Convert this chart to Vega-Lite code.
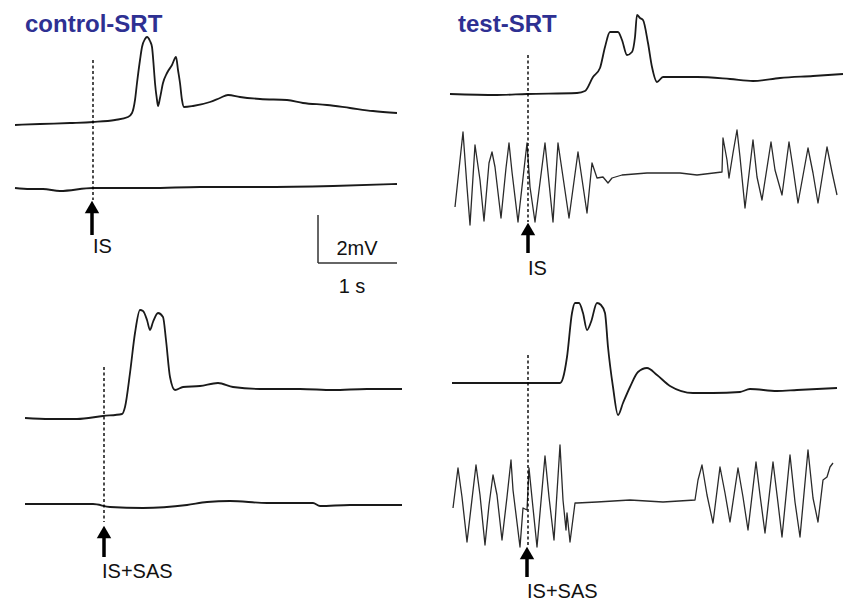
{
"$schema": "https://vega.github.io/schema/vega-lite/v6.json",
"width": 845, "height": 602,
"autosize": {"type": "fit", "contains": "padding"},
"padding": 0,
"background": "white",
"config": {"view": {"stroke": null}},
"datasets": {
"traces": [
{"s":"c1","g":"main","x":15,"y":125},{"s":"c1","g":"main","x":40,"y":124},{"s":"c1","g":"main","x":70,"y":123},{"s":"c1","g":"main","x":93,"y":122},{"s":"c1","g":"main","x":115,"y":120},{"s":"c1","g":"main","x":128,"y":117},{"s":"c1","g":"main","x":132,"y":113},{"s":"c1","g":"main","x":135,"y":100},{"s":"c1","g":"main","x":137,"y":83},{"s":"c1","g":"main","x":140,"y":60},{"s":"c1","g":"main","x":142,"y":47},{"s":"c1","g":"main","x":145,"y":39},{"s":"c1","g":"main","x":147,"y":37},{"s":"c1","g":"main","x":150,"y":41},{"s":"c1","g":"main","x":152,"y":47},{"s":"c1","g":"main","x":154,"y":70},{"s":"c1","g":"main","x":155,"y":83},{"s":"c1","g":"main","x":157,"y":100},{"s":"c1","g":"main","x":158,"y":106},{"s":"c1","g":"main","x":160,"y":98},{"s":"c1","g":"main","x":163,"y":83},{"s":"c1","g":"main","x":167,"y":73},{"s":"c1","g":"main","x":172,"y":65},{"s":"c1","g":"main","x":176,"y":57},{"s":"c1","g":"main","x":178,"y":70},{"s":"c1","g":"main","x":180,"y":83},{"s":"c1","g":"main","x":182,"y":100},{"s":"c1","g":"main","x":184,"y":107},{"s":"c1","g":"main","x":193,"y":106},{"s":"c1","g":"main","x":210,"y":102},{"s":"c1","g":"main","x":220,"y":98},{"s":"c1","g":"main","x":228,"y":95},{"s":"c1","g":"main","x":240,"y":97},{"s":"c1","g":"main","x":260,"y":99},{"s":"c1","g":"main","x":287,"y":100},{"s":"c1","g":"main","x":303,"y":103},{"s":"c1","g":"main","x":327,"y":105},{"s":"c1","g":"main","x":350,"y":108},{"s":"c1","g":"main","x":373,"y":111},{"s":"c1","g":"main","x":397,"y":113},
{"s":"c2","g":"main","x":15,"y":188},{"s":"c2","g":"main","x":30,"y":189},{"s":"c2","g":"main","x":43,"y":189},{"s":"c2","g":"main","x":60,"y":191},{"s":"c2","g":"main","x":93,"y":188},{"s":"c2","g":"main","x":150,"y":188},{"s":"c2","g":"main","x":200,"y":187},{"s":"c2","g":"main","x":260,"y":187},{"s":"c2","g":"main","x":333,"y":186},{"s":"c2","g":"main","x":397,"y":184},
{"s":"t1","g":"main","x":450,"y":94},{"s":"t1","g":"main","x":497,"y":95},{"s":"t1","g":"main","x":527,"y":94},{"s":"t1","g":"main","x":577,"y":93},{"s":"t1","g":"main","x":585,"y":91},{"s":"t1","g":"main","x":593,"y":77},{"s":"t1","g":"main","x":600,"y":68},{"s":"t1","g":"main","x":605,"y":47},{"s":"t1","g":"main","x":610,"y":32},{"s":"t1","g":"main","x":618,"y":32},{"s":"t1","g":"main","x":622,"y":40},{"s":"t1","g":"main","x":627,"y":55},{"s":"t1","g":"main","x":632,"y":52},{"s":"t1","g":"main","x":635,"y":37},{"s":"t1","g":"main","x":637,"y":15},{"s":"t1","g":"main","x":640,"y":18},{"s":"t1","g":"main","x":643,"y":20},{"s":"t1","g":"main","x":648,"y":43},{"s":"t1","g":"main","x":652,"y":67},{"s":"t1","g":"main","x":657,"y":82},{"s":"t1","g":"main","x":663,"y":77},{"s":"t1","g":"main","x":697,"y":77},{"s":"t1","g":"main","x":730,"y":79},{"s":"t1","g":"main","x":753,"y":81},{"s":"t1","g":"main","x":780,"y":78},{"s":"t1","g":"main","x":813,"y":76},{"s":"t1","g":"main","x":843,"y":74},
{"s":"t2","g":"osc","x":455,"y":207},{"s":"t2","g":"osc","x":463,"y":132},{"s":"t2","g":"osc","x":467,"y":187},{"s":"t2","g":"osc","x":470,"y":225},{"s":"t2","g":"osc","x":475,"y":145},{"s":"t2","g":"osc","x":480,"y":180},{"s":"t2","g":"osc","x":484,"y":221},{"s":"t2","g":"osc","x":489,"y":163},{"s":"t2","g":"osc","x":492,"y":152},{"s":"t2","g":"osc","x":495,"y":167},{"s":"t2","g":"osc","x":501,"y":218},{"s":"t2","g":"osc","x":506,"y":168},{"s":"t2","g":"osc","x":509,"y":143},{"s":"t2","g":"osc","x":512,"y":172},{"s":"t2","g":"osc","x":518,"y":222},{"s":"t2","g":"osc","x":527,"y":143},{"s":"t2","g":"osc","x":530,"y":187},{"s":"t2","g":"osc","x":535,"y":222},{"s":"t2","g":"osc","x":545,"y":143},{"s":"t2","g":"osc","x":553,"y":222},{"s":"t2","g":"osc","x":558,"y":143},{"s":"t2","g":"osc","x":563,"y":177},{"s":"t2","g":"osc","x":569,"y":218},{"s":"t2","g":"osc","x":578,"y":152},{"s":"t2","g":"osc","x":587,"y":213},{"s":"t2","g":"osc","x":592,"y":163},{"s":"t2","g":"osc","x":597,"y":178},{"s":"t2","g":"osc","x":603,"y":177},{"s":"t2","g":"osc","x":608,"y":183},{"s":"t2","g":"osc","x":612,"y":178},{"s":"t2","g":"osc","x":622,"y":175},{"s":"t2","g":"osc","x":647,"y":173},{"s":"t2","g":"osc","x":680,"y":173},{"s":"t2","g":"osc","x":697,"y":175},{"s":"t2","g":"osc","x":722,"y":172},{"s":"t2","g":"osc","x":723,"y":138},{"s":"t2","g":"osc","x":727,"y":160},{"s":"t2","g":"osc","x":729,"y":178},{"s":"t2","g":"osc","x":733,"y":153},{"s":"t2","g":"osc","x":737,"y":130},{"s":"t2","g":"osc","x":740,"y":157},{"s":"t2","g":"osc","x":745,"y":208},{"s":"t2","g":"osc","x":753,"y":140},{"s":"t2","g":"osc","x":757,"y":177},{"s":"t2","g":"osc","x":762,"y":200},{"s":"t2","g":"osc","x":771,"y":142},{"s":"t2","g":"osc","x":775,"y":170},{"s":"t2","g":"osc","x":782,"y":195},{"s":"t2","g":"osc","x":789,"y":142},{"s":"t2","g":"osc","x":793,"y":168},{"s":"t2","g":"osc","x":798,"y":203},{"s":"t2","g":"osc","x":808,"y":148},{"s":"t2","g":"osc","x":813,"y":173},{"s":"t2","g":"osc","x":818,"y":203},{"s":"t2","g":"osc","x":827,"y":147},{"s":"t2","g":"osc","x":832,"y":172},{"s":"t2","g":"osc","x":837,"y":195},
{"s":"c3","g":"main","x":25,"y":418},{"s":"c3","g":"main","x":50,"y":419},{"s":"c3","g":"main","x":77,"y":419},{"s":"c3","g":"main","x":103,"y":416},{"s":"c3","g":"main","x":122,"y":414},{"s":"c3","g":"main","x":125,"y":407},{"s":"c3","g":"main","x":130,"y":373},{"s":"c3","g":"main","x":135,"y":333},{"s":"c3","g":"main","x":140,"y":310},{"s":"c3","g":"main","x":143,"y":311},{"s":"c3","g":"main","x":147,"y":320},{"s":"c3","g":"main","x":150,"y":330},{"s":"c3","g":"main","x":153,"y":322},{"s":"c3","g":"main","x":158,"y":313},{"s":"c3","g":"main","x":163,"y":317},{"s":"c3","g":"main","x":166,"y":340},{"s":"c3","g":"main","x":170,"y":377},{"s":"c3","g":"main","x":175,"y":390},{"s":"c3","g":"main","x":183,"y":387},{"s":"c3","g":"main","x":200,"y":386},{"s":"c3","g":"main","x":218,"y":383},{"s":"c3","g":"main","x":233,"y":387},{"s":"c3","g":"main","x":260,"y":389},{"s":"c3","g":"main","x":300,"y":389},{"s":"c3","g":"main","x":333,"y":390},{"s":"c3","g":"main","x":367,"y":389},{"s":"c3","g":"main","x":402,"y":389},
{"s":"c4","g":"main","x":25,"y":504},{"s":"c4","g":"main","x":60,"y":504},{"s":"c4","g":"main","x":93,"y":504},{"s":"c4","g":"main","x":110,"y":507},{"s":"c4","g":"main","x":143,"y":508},{"s":"c4","g":"main","x":187,"y":505},{"s":"c4","g":"main","x":207,"y":502},{"s":"c4","g":"main","x":230,"y":501},{"s":"c4","g":"main","x":267,"y":503},{"s":"c4","g":"main","x":313,"y":503},{"s":"c4","g":"main","x":320,"y":506},{"s":"c4","g":"main","x":350,"y":505},{"s":"c4","g":"main","x":402,"y":505},
{"s":"t3","g":"main","x":452,"y":383},{"s":"t3","g":"main","x":497,"y":383},{"s":"t3","g":"main","x":527,"y":383},{"s":"t3","g":"main","x":560,"y":383},{"s":"t3","g":"main","x":563,"y":378},{"s":"t3","g":"main","x":567,"y":357},{"s":"t3","g":"main","x":572,"y":313},{"s":"t3","g":"main","x":575,"y":303},{"s":"t3","g":"main","x":579,"y":303},{"s":"t3","g":"main","x":583,"y":313},{"s":"t3","g":"main","x":587,"y":330},{"s":"t3","g":"main","x":591,"y":322},{"s":"t3","g":"main","x":597,"y":303},{"s":"t3","g":"main","x":601,"y":305},{"s":"t3","g":"main","x":605,"y":313},{"s":"t3","g":"main","x":608,"y":347},{"s":"t3","g":"main","x":613,"y":387},{"s":"t3","g":"main","x":618,"y":415},{"s":"t3","g":"main","x":623,"y":403},{"s":"t3","g":"main","x":630,"y":387},{"s":"t3","g":"main","x":638,"y":372},{"s":"t3","g":"main","x":647,"y":368},{"s":"t3","g":"main","x":657,"y":375},{"s":"t3","g":"main","x":670,"y":386},{"s":"t3","g":"main","x":693,"y":393},{"s":"t3","g":"main","x":713,"y":393},{"s":"t3","g":"main","x":740,"y":392},{"s":"t3","g":"main","x":750,"y":389},{"s":"t3","g":"main","x":777,"y":391},{"s":"t3","g":"main","x":797,"y":390},{"s":"t3","g":"main","x":837,"y":388},
{"s":"t4","g":"osc","x":453,"y":508},{"s":"t4","g":"osc","x":458,"y":468},{"s":"t4","g":"osc","x":462,"y":497},{"s":"t4","g":"osc","x":467,"y":542},{"s":"t4","g":"osc","x":476,"y":465},{"s":"t4","g":"osc","x":480,"y":495},{"s":"t4","g":"osc","x":485,"y":545},{"s":"t4","g":"osc","x":489,"y":505},{"s":"t4","g":"osc","x":493,"y":475},{"s":"t4","g":"osc","x":497,"y":495},{"s":"t4","g":"osc","x":502,"y":540},{"s":"t4","g":"osc","x":507,"y":497},{"s":"t4","g":"osc","x":511,"y":460},{"s":"t4","g":"osc","x":513,"y":490},{"s":"t4","g":"osc","x":520,"y":547},{"s":"t4","g":"osc","x":523,"y":508},{"s":"t4","g":"osc","x":527,"y":510},{"s":"t4","g":"osc","x":529,"y":468},{"s":"t4","g":"osc","x":532,"y":498},{"s":"t4","g":"osc","x":537,"y":547},{"s":"t4","g":"osc","x":545,"y":456},{"s":"t4","g":"osc","x":549,"y":497},{"s":"t4","g":"osc","x":554,"y":540},{"s":"t4","g":"osc","x":560,"y":445},{"s":"t4","g":"osc","x":563,"y":500},{"s":"t4","g":"osc","x":566,"y":530},{"s":"t4","g":"osc","x":567,"y":513},{"s":"t4","g":"osc","x":570,"y":542},{"s":"t4","g":"osc","x":575,"y":503},{"s":"t4","g":"osc","x":577,"y":503},{"s":"t4","g":"osc","x":597,"y":502},{"s":"t4","g":"osc","x":630,"y":500},{"s":"t4","g":"osc","x":663,"y":502},{"s":"t4","g":"osc","x":695,"y":500},{"s":"t4","g":"osc","x":698,"y":480},{"s":"t4","g":"osc","x":702,"y":465},{"s":"t4","g":"osc","x":707,"y":495},{"s":"t4","g":"osc","x":713,"y":523},{"s":"t4","g":"osc","x":720,"y":467},{"s":"t4","g":"osc","x":725,"y":493},{"s":"t4","g":"osc","x":730,"y":522},{"s":"t4","g":"osc","x":738,"y":468},{"s":"t4","g":"osc","x":743,"y":497},{"s":"t4","g":"osc","x":748,"y":530},{"s":"t4","g":"osc","x":756,"y":462},{"s":"t4","g":"osc","x":760,"y":495},{"s":"t4","g":"osc","x":765,"y":533},{"s":"t4","g":"osc","x":773,"y":462},{"s":"t4","g":"osc","x":778,"y":503},{"s":"t4","g":"osc","x":782,"y":537},{"s":"t4","g":"osc","x":790,"y":455},{"s":"t4","g":"osc","x":795,"y":502},{"s":"t4","g":"osc","x":800,"y":537},{"s":"t4","g":"osc","x":808,"y":450},{"s":"t4","g":"osc","x":813,"y":498},{"s":"t4","g":"osc","x":818,"y":522},{"s":"t4","g":"osc","x":823,"y":480},{"s":"t4","g":"osc","x":827,"y":477},{"s":"t4","g":"osc","x":830,"y":467},{"s":"t4","g":"osc","x":833,"y":463}
],
"dashes": [
{"x":93,"y":60,"y2":200},{"x":528,"y":55,"y2":222},{"x":104,"y":367,"y2":522},{"x":528,"y":355,"y2":546}
],
"arrows": [
{"x":92,"yh":207,"ys":210,"yb":235},{"x":528,"yh":229,"ys":232,"yb":253},{"x":104,"yh":532,"ys":535,"yb":557},{"x":527,"yh":553,"ys":556,"yb":577}
],
"scalebar": [
{"x":318,"x2":318,"y":215,"y2":263},{"x":318,"x2":397,"y":263,"y2":263}
],
"titles": [
{"t":"control-SRT","x":25,"y":32},{"t":"test-SRT","x":458,"y":32}
],
"labels": [
{"t":"IS","x":93,"y":253},{"t":"IS","x":528,"y":275},{"t":"IS+SAS","x":102,"y":578},{"t":"IS+SAS","x":527,"y":598}
],
"clabels": [
{"t":"2mV","x":357,"y":255},{"t":"1 s","x":352,"y":293}
]
},
"layer": [
{
"data": {"name": "traces"},
"transform": [{"filter": "datum.g === 'main'"}],
"mark": {"type": "line", "color": "#1a1a1a", "strokeWidth": 1.8, "strokeJoin": "round", "interpolate": "monotone"},
"encoding": {
"x": {"field": "x", "type": "quantitative", "scale": {"domain": [0, 845], "nice": false, "zero": false}, "axis": null},
"y": {"field": "y", "type": "quantitative", "scale": {"domain": [0, 602], "nice": false, "zero": false, "reverse": true}, "axis": null},
"detail": {"field": "s", "type": "nominal"}
}
},
{
"data": {"name": "traces"},
"transform": [{"filter": "datum.g === 'osc'"}],
"mark": {"type": "line", "color": "#2a2a2a", "strokeWidth": 1.3, "strokeJoin": "round"},
"encoding": {
"x": {"field": "x", "type": "quantitative", "scale": {"domain": [0, 845], "nice": false, "zero": false}, "axis": null},
"y": {"field": "y", "type": "quantitative", "scale": {"domain": [0, 602], "nice": false, "zero": false, "reverse": true}, "axis": null},
"detail": {"field": "s", "type": "nominal"}
}
},
{
"data": {"name": "dashes"},
"mark": {"type": "rule", "color": "#000", "strokeWidth": 1.4, "strokeDash": [3, 2.5]},
"encoding": {
"x": {"field": "x", "type": "quantitative", "scale": {"domain": [0, 845], "nice": false, "zero": false}, "axis": null},
"y": {"field": "y", "type": "quantitative", "scale": {"domain": [0, 602], "nice": false, "zero": false, "reverse": true}, "axis": null},
"y2": {"field": "y2"}
}
},
{
"data": {"name": "arrows"},
"mark": {"type": "rule", "color": "#000", "strokeWidth": 3.5},
"encoding": {
"x": {"field": "x", "type": "quantitative", "scale": {"domain": [0, 845], "nice": false, "zero": false}, "axis": null},
"y": {"field": "ys", "type": "quantitative", "scale": {"domain": [0, 602], "nice": false, "zero": false, "reverse": true}, "axis": null},
"y2": {"field": "yb"}
}
},
{
"data": {"name": "arrows"},
"mark": {"type": "point", "shape": "triangle-up", "filled": true, "color": "#000", "size": 210, "opacity": 1},
"encoding": {
"x": {"field": "x", "type": "quantitative", "scale": {"domain": [0, 845], "nice": false, "zero": false}, "axis": null},
"y": {"field": "yh", "type": "quantitative", "scale": {"domain": [0, 602], "nice": false, "zero": false, "reverse": true}, "axis": null}
}
},
{
"data": {"name": "scalebar"},
"mark": {"type": "rule", "color": "#333", "strokeWidth": 1.5},
"encoding": {
"x": {"field": "x", "type": "quantitative", "scale": {"domain": [0, 845], "nice": false, "zero": false}, "axis": null},
"y": {"field": "y", "type": "quantitative", "scale": {"domain": [0, 602], "nice": false, "zero": false, "reverse": true}, "axis": null},
"x2": {"field": "x2"},
"y2": {"field": "y2"}
}
},
{
"data": {"name": "titles"},
"mark": {"type": "text", "align": "left", "baseline": "alphabetic", "font": "Liberation Sans", "fontSize": 24, "fontWeight": "bold", "color": "#2e3092"},
"encoding": {
"x": {"field": "x", "type": "quantitative", "scale": {"domain": [0, 845], "nice": false, "zero": false}, "axis": null},
"y": {"field": "y", "type": "quantitative", "scale": {"domain": [0, 602], "nice": false, "zero": false, "reverse": true}, "axis": null},
"text": {"field": "t"}
}
},
{
"data": {"name": "labels"},
"mark": {"type": "text", "align": "left", "baseline": "alphabetic", "font": "Liberation Sans", "fontSize": 20, "color": "#111"},
"encoding": {
"x": {"field": "x", "type": "quantitative", "scale": {"domain": [0, 845], "nice": false, "zero": false}, "axis": null},
"y": {"field": "y", "type": "quantitative", "scale": {"domain": [0, 602], "nice": false, "zero": false, "reverse": true}, "axis": null},
"text": {"field": "t"}
}
},
{
"data": {"name": "clabels"},
"mark": {"type": "text", "align": "center", "baseline": "alphabetic", "font": "Liberation Sans", "fontSize": 20, "color": "#111"},
"encoding": {
"x": {"field": "x", "type": "quantitative", "scale": {"domain": [0, 845], "nice": false, "zero": false}, "axis": null},
"y": {"field": "y", "type": "quantitative", "scale": {"domain": [0, 602], "nice": false, "zero": false, "reverse": true}, "axis": null},
"text": {"field": "t"}
}
}
]
}
